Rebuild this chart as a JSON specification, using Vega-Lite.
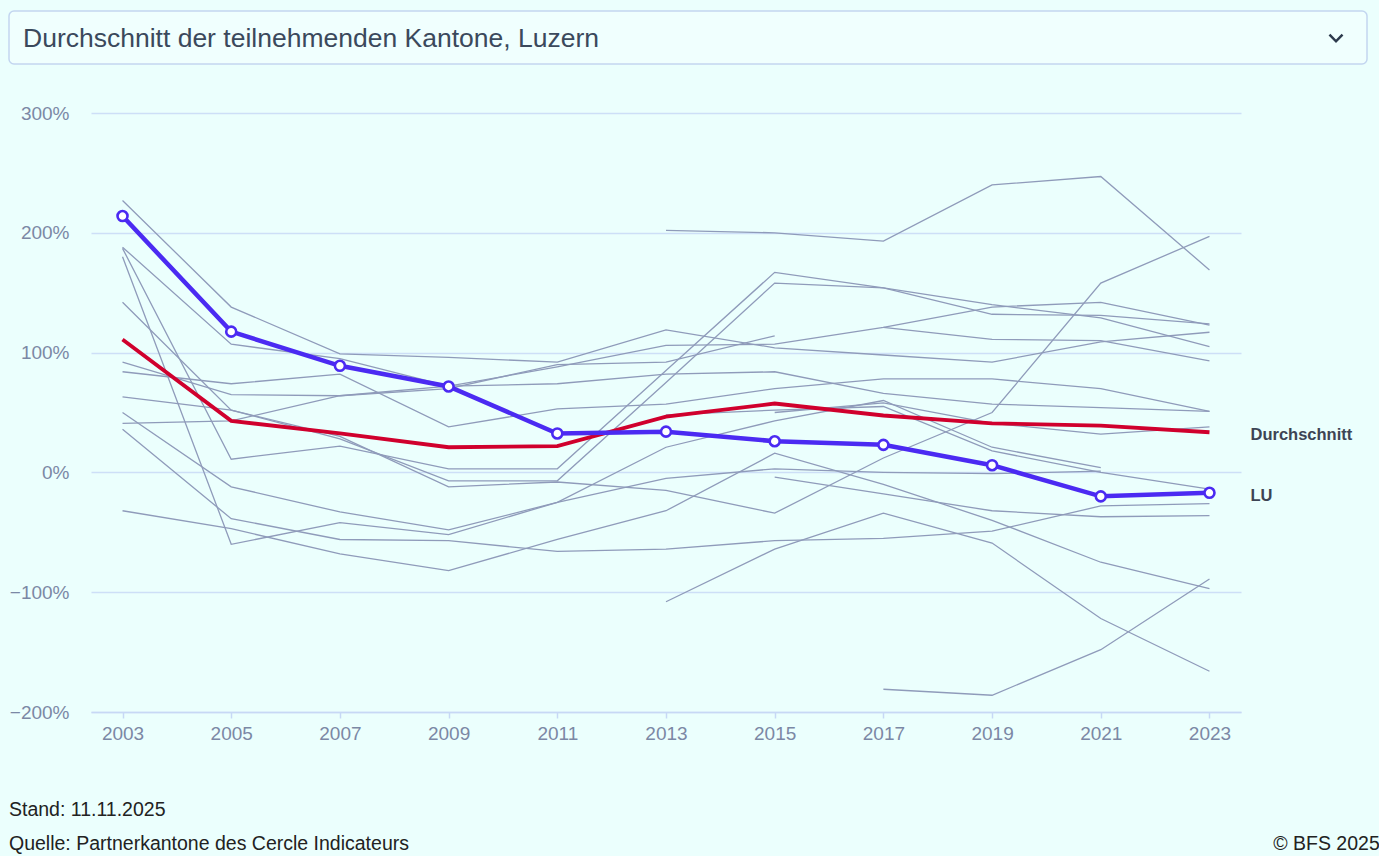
{
  "$schema": "https://vega.github.io/schema/vega-lite/v6.json",
  "background": "#ebfffd",
  "padding": {"left": 8, "top": 10, "right": 1, "bottom": 2},
  "config": {"font": "Liberation Sans", "view": {"stroke": null}},
  "title": {"text": "© BFS 2025", "orient": "bottom", "anchor": "end", "frame": "bounds", "fontSize": 19.5, "fontWeight": "normal", "color": "#222222", "offset": -19, "dx": 12},
  "spacing": 39,
  "vconcat": [
    {
      "width": 1150,
      "height": 53,
      "data": {"values": [{"label": "Durchschnitt der teilnehmenden Kantone, Luzern"}]},
      "layer": [
        {
          "mark": {"type": "rect", "cornerRadius": 5, "fill": "#f0fffe", "stroke": "#c3d6f0", "strokeWidth": 1.5},
          "encoding": {"x": {"value": -82}, "x2": {"value": 1276}, "y": {"value": 0}, "y2": {"value": 53}}
        },
        {
          "mark": {"type": "text", "align": "left", "baseline": "middle", "fontSize": 26.5, "color": "#3b495c"},
          "encoding": {"text": {"field": "label"}, "x": {"value": -68}, "y": {"value": 28}}
        },
        {
          "mark": {"type": "point", "shape": "M-1,-0.5L0,0.5L1,-0.5", "filled": false, "size": 170, "strokeWidth": 2.5, "color": "#2d3a4d", "opacity": 1},
          "encoding": {"x": {"value": 1245}, "y": {"value": 27}}
        }
      ]
    },
    {
      "width": 1150,
      "height": 599,
      "title": {"text": ["Stand: 11.11.2025", "Quelle: Partnerkantone des Cercle Indicateurs"], "orient": "bottom", "anchor": "start", "frame": "bounds", "fontSize": 19.5, "fontWeight": "normal", "color": "#222222", "lineHeight": 34, "offset": 58},
      "data": {"values": [
        {"series": "LU", "year": 2003, "value": 214}, {"series": "LU", "year": 2005, "value": 117.5}, {"series": "LU", "year": 2007, "value": 89}, {"series": "LU", "year": 2009, "value": 71.7}, {"series": "LU", "year": 2011, "value": 32.5}, {"series": "LU", "year": 2013, "value": 34}, {"series": "LU", "year": 2015, "value": 26}, {"series": "LU", "year": 2017, "value": 23}, {"series": "LU", "year": 2019, "value": 6}, {"series": "LU", "year": 2021, "value": -20}, {"series": "LU", "year": 2023, "value": -17},
        {"series": "Durchschnitt", "year": 2003, "value": 111}, {"series": "Durchschnitt", "year": 2005, "value": 43}, {"series": "Durchschnitt", "year": 2007, "value": 32.5}, {"series": "Durchschnitt", "year": 2009, "value": 21}, {"series": "Durchschnitt", "year": 2011, "value": 22}, {"series": "Durchschnitt", "year": 2013, "value": 46.5}, {"series": "Durchschnitt", "year": 2015, "value": 57.5}, {"series": "Durchschnitt", "year": 2017, "value": 47.5}, {"series": "Durchschnitt", "year": 2019, "value": 41}, {"series": "Durchschnitt", "year": 2021, "value": 39}, {"series": "Durchschnitt", "year": 2023, "value": 33.5},
        {"series": "K1", "year": 2003, "value": 227}, {"series": "K1", "year": 2005, "value": 138}, {"series": "K1", "year": 2007, "value": 99}, {"series": "K1", "year": 2009, "value": 96}, {"series": "K1", "year": 2011, "value": 92}, {"series": "K1", "year": 2013, "value": 119}, {"series": "K1", "year": 2015, "value": 104}, {"series": "K1", "year": 2017, "value": 98}, {"series": "K1", "year": 2019, "value": 92}, {"series": "K1", "year": 2021, "value": 109}, {"series": "K1", "year": 2023, "value": 117},
        {"series": "K2", "year": 2003, "value": 188}, {"series": "K2", "year": 2005, "value": 107}, {"series": "K2", "year": 2007, "value": 95}, {"series": "K2", "year": 2009, "value": 72}, {"series": "K2", "year": 2011, "value": 74}, {"series": "K2", "year": 2013, "value": 82}, {"series": "K2", "year": 2015, "value": 84}, {"series": "K2", "year": 2017, "value": 66}, {"series": "K2", "year": 2019, "value": 57}, {"series": "K2", "year": 2021, "value": 54}, {"series": "K2", "year": 2023, "value": 51},
        {"series": "K3", "year": 2003, "value": 92}, {"series": "K3", "year": 2005, "value": 65}, {"series": "K3", "year": 2007, "value": 64}, {"series": "K3", "year": 2009, "value": 72}, {"series": "K3", "year": 2011, "value": 88}, {"series": "K3", "year": 2013, "value": 106}, {"series": "K3", "year": 2015, "value": 107}, {"series": "K3", "year": 2017, "value": 121}, {"series": "K3", "year": 2019, "value": 138}, {"series": "K3", "year": 2021, "value": 142}, {"series": "K3", "year": 2023, "value": 123},
        {"series": "K4", "year": 2003, "value": 41}, {"series": "K4", "year": 2005, "value": 43}, {"series": "K4", "year": 2007, "value": 64}, {"series": "K4", "year": 2009, "value": 70}, {"series": "K4", "year": 2011, "value": 90}, {"series": "K4", "year": 2013, "value": 92}, {"series": "K4", "year": 2015, "value": 114},
        {"series": "K5", "year": 2003, "value": 84}, {"series": "K5", "year": 2005, "value": 74}, {"series": "K5", "year": 2007, "value": 82}, {"series": "K5", "year": 2009, "value": 38}, {"series": "K5", "year": 2011, "value": 53}, {"series": "K5", "year": 2013, "value": 57}, {"series": "K5", "year": 2015, "value": 70}, {"series": "K5", "year": 2017, "value": 78}, {"series": "K5", "year": 2019, "value": 78}, {"series": "K5", "year": 2021, "value": 70}, {"series": "K5", "year": 2023, "value": 51},
        {"series": "K6", "year": 2003, "value": 187}, {"series": "K6", "year": 2005, "value": 11}, {"series": "K6", "year": 2007, "value": 22}, {"series": "K6", "year": 2009, "value": 3}, {"series": "K6", "year": 2011, "value": 3}, {"series": "K6", "year": 2013, "value": 85}, {"series": "K6", "year": 2015, "value": 167}, {"series": "K6", "year": 2017, "value": 154}, {"series": "K6", "year": 2019, "value": 132}, {"series": "K6", "year": 2021, "value": 131}, {"series": "K6", "year": 2023, "value": 124},
        {"series": "K7", "year": 2003, "value": 142}, {"series": "K7", "year": 2005, "value": 52}, {"series": "K7", "year": 2007, "value": 28}, {"series": "K7", "year": 2009, "value": -7}, {"series": "K7", "year": 2011, "value": -7}, {"series": "K7", "year": 2013, "value": 75}, {"series": "K7", "year": 2015, "value": 158}, {"series": "K7", "year": 2017, "value": 154}, {"series": "K7", "year": 2019, "value": 140}, {"series": "K7", "year": 2021, "value": 129}, {"series": "K7", "year": 2023, "value": 105},
        {"series": "K8", "year": 2003, "value": 63}, {"series": "K8", "year": 2005, "value": 52}, {"series": "K8", "year": 2007, "value": 30}, {"series": "K8", "year": 2009, "value": -12}, {"series": "K8", "year": 2011, "value": -8}, {"series": "K8", "year": 2013, "value": -15}, {"series": "K8", "year": 2015, "value": -34}, {"series": "K8", "year": 2017, "value": 12}, {"series": "K8", "year": 2019, "value": 50}, {"series": "K8", "year": 2021, "value": 158}, {"series": "K8", "year": 2023, "value": 197},
        {"series": "K9", "year": 2003, "value": 50}, {"series": "K9", "year": 2005, "value": -12}, {"series": "K9", "year": 2007, "value": -33}, {"series": "K9", "year": 2009, "value": -48}, {"series": "K9", "year": 2011, "value": -25}, {"series": "K9", "year": 2013, "value": -5}, {"series": "K9", "year": 2015, "value": 3}, {"series": "K9", "year": 2017, "value": 0}, {"series": "K9", "year": 2019, "value": -1}, {"series": "K9", "year": 2021, "value": 1},
        {"series": "K10", "year": 2003, "value": 180}, {"series": "K10", "year": 2005, "value": -60}, {"series": "K10", "year": 2007, "value": -42}, {"series": "K10", "year": 2009, "value": -52}, {"series": "K10", "year": 2011, "value": -25}, {"series": "K10", "year": 2013, "value": 21}, {"series": "K10", "year": 2015, "value": 43}, {"series": "K10", "year": 2017, "value": 60}, {"series": "K10", "year": 2019, "value": 21}, {"series": "K10", "year": 2021, "value": 4},
        {"series": "K11", "year": 2003, "value": 36}, {"series": "K11", "year": 2005, "value": -38.6}, {"series": "K11", "year": 2007, "value": -56}, {"series": "K11", "year": 2009, "value": -57}, {"series": "K11", "year": 2011, "value": -66}, {"series": "K11", "year": 2013, "value": -64}, {"series": "K11", "year": 2015, "value": -57}, {"series": "K11", "year": 2017, "value": -55}, {"series": "K11", "year": 2019, "value": -49}, {"series": "K11", "year": 2021, "value": -28}, {"series": "K11", "year": 2023, "value": -26},
        {"series": "K12", "year": 2003, "value": -32}, {"series": "K12", "year": 2005, "value": -47}, {"series": "K12", "year": 2007, "value": -68}, {"series": "K12", "year": 2009, "value": -82}, {"series": "K12", "year": 2011, "value": -56}, {"series": "K12", "year": 2013, "value": -32}, {"series": "K12", "year": 2015, "value": 16}, {"series": "K12", "year": 2017, "value": -10}, {"series": "K12", "year": 2019, "value": -40}, {"series": "K12", "year": 2021, "value": -75}, {"series": "K12", "year": 2023, "value": -97},
        {"series": "K13", "year": 2013, "value": 202}, {"series": "K13", "year": 2015, "value": 200}, {"series": "K13", "year": 2017, "value": 193}, {"series": "K13", "year": 2019, "value": 240}, {"series": "K13", "year": 2021, "value": 247}, {"series": "K13", "year": 2023, "value": 169},
        {"series": "K14", "year": 2013, "value": -108}, {"series": "K14", "year": 2015, "value": -64}, {"series": "K14", "year": 2017, "value": -34}, {"series": "K14", "year": 2019, "value": -59}, {"series": "K14", "year": 2021, "value": -122}, {"series": "K14", "year": 2023, "value": -166},
        {"series": "K15", "year": 2017, "value": -181}, {"series": "K15", "year": 2019, "value": -186}, {"series": "K15", "year": 2021, "value": -148}, {"series": "K15", "year": 2023, "value": -89},
        {"series": "K16", "year": 2017, "value": 121}, {"series": "K16", "year": 2019, "value": 111}, {"series": "K16", "year": 2021, "value": 110}, {"series": "K16", "year": 2023, "value": 93},
        {"series": "K17", "year": 2013, "value": 48}, {"series": "K17", "year": 2015, "value": 52}, {"series": "K17", "year": 2017, "value": 55}, {"series": "K17", "year": 2019, "value": 18}, {"series": "K17", "year": 2021, "value": 0}, {"series": "K17", "year": 2023, "value": -14},
        {"series": "K18", "year": 2015, "value": 50}, {"series": "K18", "year": 2017, "value": 58}, {"series": "K18", "year": 2019, "value": 41}, {"series": "K18", "year": 2021, "value": 32}, {"series": "K18", "year": 2023, "value": 38},
        {"series": "K19", "year": 2015, "value": -4}, {"series": "K19", "year": 2017, "value": -18}, {"series": "K19", "year": 2019, "value": -32}, {"series": "K19", "year": 2021, "value": -37}, {"series": "K19", "year": 2023, "value": -36}
      ]},
      "encoding": {
        "x": {
          "field": "year", "type": "ordinal",
          "scale": {"type": "point", "padding": 0.29},
          "axis": {"labelAngle": 0, "labelFontSize": 19, "labelColor": "#7b88a5", "labelPadding": 6, "domainColor": "#c7d8f5", "domainWidth": 1.5, "tickColor": "#c7d8f5", "tickSize": 6, "tickWidth": 1.5, "grid": false, "title": null}
        },
        "y": {
          "field": "value", "type": "quantitative",
          "scale": {"domain": [-200, 300], "nice": false, "zero": false},
          "axis": {"values": [-200, -100, 0, 100, 200, 300], "labelExpr": "format(datum.value / 100, '.0%')", "labelFontSize": 19, "labelColor": "#7b88a5", "labelPadding": 22, "minExtent": 82, "maxExtent": 82, "domain": false, "ticks": false, "gridColor": "#cddff7", "gridWidth": 1.5, "title": null}
        }
      },
      "layer": [
        {
          "transform": [{"filter": "datum.series != 'LU' && datum.series != 'Durchschnitt'"}],
          "mark": {"type": "line", "color": "#8f9bba", "strokeWidth": 1.3},
          "encoding": {"detail": {"field": "series"}}
        },
        {
          "transform": [{"filter": "datum.series == 'Durchschnitt'"}],
          "mark": {"type": "line", "color": "#d0002d", "strokeWidth": 3.8}
        },
        {
          "transform": [{"filter": "datum.series == 'LU'"}],
          "mark": {"type": "line", "color": "#4b2af2", "strokeWidth": 4.5, "point": {"filled": false, "fill": "white", "stroke": "#4b2af2", "strokeWidth": 2.6, "size": 100, "opacity": 1}}
        },
        {
          "transform": [{"filter": "(datum.series == 'LU' || datum.series == 'Durchschnitt') && datum.year == 2023"}],
          "mark": {"type": "text", "align": "left", "baseline": "middle", "dx": 41, "dy": 3, "fontSize": 16.5, "fontWeight": "bold", "color": "#3d4454"},
          "encoding": {"text": {"field": "series"}}
        }
      ]
    }
  ]
}
